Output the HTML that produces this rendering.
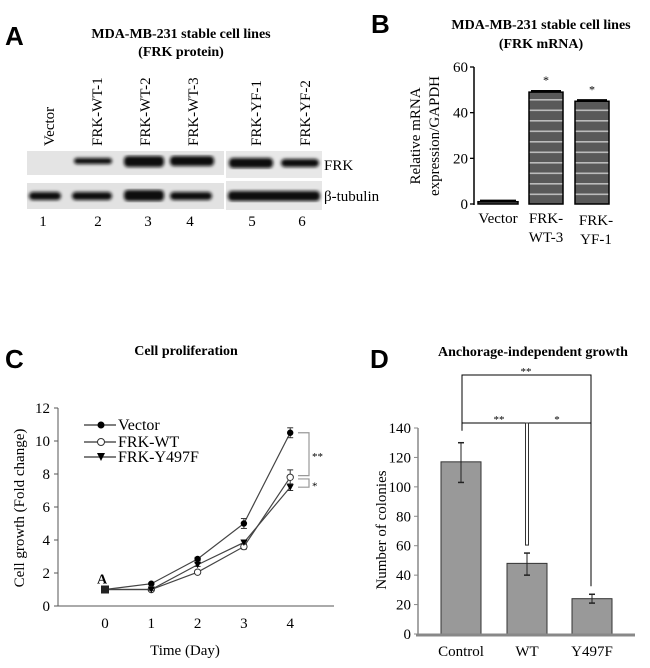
<!DOCTYPE html>
<html><head><meta charset="utf-8">
<style>
html,body{margin:0;padding:0;background:#fff;}
svg{display:block;font-family:"Liberation Serif",serif;}
.pl{font-family:"Liberation Sans",sans-serif;font-weight:bold;font-size:26px;}
.tt{font-weight:bold;font-size:14px;}
</style></head>
<body>
<svg width="650" height="668" viewBox="0 0 650 668">
<defs>
<pattern id="stripe" width="10" height="10.5" patternUnits="userSpaceOnUse">
<rect width="10" height="10.5" fill="#595959"/><rect y="4.5" width="10" height="1.6" fill="#bbb"/>
</pattern>
<filter id="blur"><feGaussianBlur stdDeviation="1.6"/></filter>
</defs>

<g>
<text class="pl" x="5" y="45">A</text>
<text class="tt" x="181" y="38" text-anchor="middle">MDA-MB-231 stable cell lines</text>
<text class="tt" x="181" y="56" text-anchor="middle">(FRK protein)</text>
<g font-size="15">
<text transform="translate(54,146) rotate(-90)">Vector</text>
<text transform="translate(102,146) rotate(-90)">FRK-WT-1</text>
<text transform="translate(150,146) rotate(-90)">FRK-WT-2</text>
<text transform="translate(198,146) rotate(-90)">FRK-WT-3</text>
<text transform="translate(261,146) rotate(-90)">FRK-YF-1</text>
<text transform="translate(310,146) rotate(-90)">FRK-YF-2</text>
</g>
<g>
<rect x="27" y="151" width="197" height="24" fill="#e4e4e4"/>
<rect x="226" y="151" width="96" height="27" fill="#e8e8e8"/>
<g filter="url(#blur)" fill="#111">
<rect x="74" y="158" width="38" height="6" rx="3"/>
<rect x="124" y="156" width="40" height="11" rx="4"/>
<rect x="170" y="156" width="44" height="10" rx="4"/>
<rect x="229" y="158" width="44" height="10" rx="4"/>
<rect x="281" y="159" width="38" height="8" rx="4"/>
</g>
</g>
<g>
<rect x="27" y="183" width="197" height="26" fill="#e2e2e2"/>
<rect x="226" y="181" width="96" height="29" fill="#e6e6e6"/>
<g filter="url(#blur)" fill="#111">
<rect x="29" y="192" width="32" height="8" rx="4"/>
<rect x="72" y="192" width="40" height="8" rx="4"/>
<rect x="124" y="190" width="40" height="11" rx="4"/>
<rect x="170" y="192" width="42" height="8" rx="4"/>
<rect x="228" y="191" width="92" height="10" rx="4"/>
</g>
</g>
<text x="324" y="170" font-size="15">FRK</text>
<text x="324" y="201" font-size="15">β-tubulin</text>
<g font-size="15" text-anchor="middle">
<text x="43" y="226">1</text><text x="98" y="226">2</text><text x="148" y="226">3</text>
<text x="190" y="226">4</text><text x="252" y="226">5</text><text x="302" y="226">6</text>
</g>
</g>

<g id="panelB">
<text class="pl" x="371" y="33">B</text>
<text class="tt" x="541" y="29" text-anchor="middle">MDA-MB-231 stable cell lines</text>
<text class="tt" x="541" y="48" text-anchor="middle">(FRK mRNA)</text>
<text transform="translate(420,136) rotate(-90)" font-size="15" text-anchor="middle">Relative mRNA</text>
<text transform="translate(439,136) rotate(-90)" font-size="15" text-anchor="middle">expression/GAPDH</text>
</g>

<g id="panelC">
<text class="pl" x="5" y="368">C</text>
<text class="tt" x="186" y="355" text-anchor="middle">Cell proliferation</text>
<text transform="translate(24,508) rotate(-90)" font-size="15" text-anchor="middle">Cell growth (Fold change)</text>
<text x="185" y="655" font-size="15" text-anchor="middle">Time (Day)</text>
</g>

<g id="panelD">
<text class="pl" x="370" y="368">D</text>
<text class="tt" x="533" y="356" text-anchor="middle">Anchorage-independent growth</text>
<text transform="translate(386,530) rotate(-90)" font-size="15" text-anchor="middle">Number of colonies</text>
</g>
</svg>

<script>
const bCats = [["Vector"],["FRK-","WT-3"],["FRK-","YF-1"]];
const bVals = [1, 49, 45];
const bErr = [0.6, 0.6, 0.6];
const bTicks = [0, 20, 40, 60];
const cDays = [0, 1, 2, 3, 4];
const cVector = [1, 1.35, 2.85, 5.0, 10.5];
const cWT = [1, 1.0, 2.05, 3.6, 7.8];
const cYF = [1, 1.0, 2.5, 3.85, 7.2];
const cVectorErr = [0.05, 0.05, 0.1, 0.3, 0.3];
const cWTErr = [0.05, 0.05, 0.1, 0.15, 0.45];
const cYFErr = [0.05, 0.05, 0.1, 0.1, 0.2];
const cYTicks = [0, 2, 4, 6, 8, 10, 12];
const cSeriesNames = ["Vector", "FRK-WT", "FRK-Y497F"];
const dCats = ["Control", "WT", "Y497F"];
const dVals = [117, 48, 24];
const dLo = [103, 40, 21];
const dHi = [130, 55, 27];
const dTicks = [0, 20, 40, 60, 80, 100, 120, 140];

const NS = "http://www.w3.org/2000/svg";
function mk(parent, tag, attrs, text) {
  const e = document.createElementNS(NS, tag);
  for (const k in attrs) e.setAttribute(k, attrs[k]);
  if (text !== undefined) e.textContent = text;
  parent.appendChild(e);
  return e;
}

(function(){
  const g = document.getElementById("panelB");
  const y = v => 204 - v * (137 / 60);
  const xc = [498, 546, 592], bw = 34;
  const ax = mk(g, "line", {x1:474, y1:y(60), x2:474, y2:205, stroke:"#000", "stroke-width":1.5});
  
  
  bTicks.forEach(t => {
    mk(g, "line", {x1:470, y1:y(t), x2:474, y2:y(t), stroke:"#000", "stroke-width":1.3});
    const tx = mk(g, "text", {x:468, y:y(t)+5, "font-size":15, "text-anchor":"end"}, t);
    
    
  });
  bVals.forEach((v, i) => {
    const w = i === 0 ? 40 : bw;
    const r = mk(g, "rect", {x:xc[i]-w/2, y:y(v), width:w, height:y(0)-y(v), fill:"url(#stripe)", stroke:"#000", "stroke-width":1.5});
    
    
    mk(g, "line", {x1:xc[i]-w/2+2, y1:y(v+bErr[i]), x2:xc[i]+w/2-2, y2:y(v+bErr[i]), stroke:"#000", "stroke-width":1.5});
    if (i > 0) mk(g, "text", {x:xc[i], y:y(v)-8, "font-size":12, "text-anchor":"middle"}, "*");
    bCats[i].forEach((ln, j) => {
      const t = mk(g, "text", {x:xc[i]+(i===2?4:0), y:223+j*19+(i===2?2:0), "font-size":15, "text-anchor":"middle"}, ln);
      
      
    });
  });
})();

(function(){
  const g = document.getElementById("panelC");
  const x = d => 105 + d * 46.3;
  const y = v => 606 - v * (198 / 12);
  mk(g, "line", {x1:58, y1:y(12), x2:58, y2:y(0), stroke:"#555", "stroke-width":1});
  mk(g, "line", {x1:58, y1:y(0), x2:334, y2:y(0), stroke:"#555", "stroke-width":1});
  cYTicks.forEach(t => {
    mk(g, "line", {x1:54, y1:y(t), x2:58, y2:y(t), stroke:"#555"});
    const tx = mk(g, "text", {x:50, y:y(t)+5, "font-size":15, "text-anchor":"end"}, t);
    
    
  });
  cDays.forEach(d => {
    const tx = mk(g, "text", {x:x(d), y:628, "font-size":15, "text-anchor":"middle"}, d);
    
    
  });
  const series = [[cVector, cVectorErr, "dot"], [cWT, cWTErr, "open"], [cYF, cYFErr, "tri"]];
  series.forEach(([vals, errs, m], si) => {
    const pts = vals.map((v, i) => x(cDays[i]) + "," + y(v)).join(" ");
    const pl = mk(g, "polyline", {points:pts, fill:"none", stroke:"#444", "stroke-width":1.2});
    
    
    vals.forEach((v, i) => {
      const cx = x(cDays[i]), cy = y(v), e = errs[i];
      mk(g, "line", {x1:cx, y1:y(v+e), x2:cx, y2:y(v-e), stroke:"#333"});
      mk(g, "line", {x1:cx-3, y1:y(v+e), x2:cx+3, y2:y(v+e), stroke:"#333"});
      mk(g, "line", {x1:cx-3, y1:y(v-e), x2:cx+3, y2:y(v-e), stroke:"#333"});
      let p;
      if (m === "dot") p = mk(g, "circle", {cx, cy, r:3.2, fill:"#000"});
      else if (m === "open") p = mk(g, "circle", {cx, cy, r:3.2, fill:"#fff", stroke:"#333"});
      else p = mk(g, "path", {d:`M${cx-3.5},${cy-3} L${cx+3.5},${cy-3} L${cx},${cy+3.5} Z`, fill:"#000"});
      
      
    });
  });
  mk(g, "rect", {x:x(0)-4, y:y(1)-4, width:8, height:8, fill:"#222"});
  mk(g, "text", {x:x(0)-3, y:y(1)-6, "font-size":14, "font-weight":"bold", "text-anchor":"middle"}, "A");
  const ly = [425, 442, 457];
  cSeriesNames.forEach((n, i) => {
    mk(g, "line", {x1:84, y1:ly[i], x2:116, y2:ly[i], stroke:"#333", "stroke-width":1.3});
    const cx = 101, cy = ly[i];
    if (i === 0) mk(g, "circle", {cx, cy, r:3.5, fill:"#000"});
    else if (i === 1) mk(g, "circle", {cx, cy, r:3.5, fill:"#fff", stroke:"#333"});
    else mk(g, "path", {d:`M${cx-4},${cy-4} L${cx+4},${cy-4} L${cx},${cy+4} Z`, fill:"#000"});
    const t = mk(g, "text", {x:118, y:cy+5, "font-size":16}, n);
    
    
  });
  mk(g, "path", {d:`M298,${y(10.5)} H309 V${y(7.9)} H298`, fill:"none", stroke:"#999", "stroke-width":1.2});
  mk(g, "path", {d:`M298,${y(7.7)} H309 V${y(7.2)} H298`, fill:"none", stroke:"#999", "stroke-width":1.2});
  mk(g, "text", {x:312, y:y(9.1)+4, "font-size":11}, "**");
  mk(g, "text", {x:312, y:y(7.3)+4, "font-size":11}, "*");
})();

(function(){
  const g = document.getElementById("panelD");
  const y = v => 634 - v * (206 / 140);
  const xc = [461, 527, 592], bw = 40;
  mk(g, "line", {x1:418, y1:y(140), x2:418, y2:y(0), stroke:"#888", "stroke-width":1.5});
  dTicks.forEach(t => {
    mk(g, "line", {x1:414, y1:y(t), x2:418, y2:y(t), stroke:"#888"});
    const tx = mk(g, "text", {x:411, y:y(t)+5, "font-size":15, "text-anchor":"end"}, t);
    
    
  });
  dVals.forEach((v, i) => {
    const r = mk(g, "rect", {x:xc[i]-bw/2, y:y(v), width:bw, height:y(0)-y(v), fill:"#999", stroke:"#333", "stroke-width":1});
    
    
    mk(g, "line", {x1:xc[i], y1:y(dHi[i]), x2:xc[i], y2:y(dLo[i]), stroke:"#222"});
    mk(g, "line", {x1:xc[i]-3, y1:y(dHi[i]), x2:xc[i]+3, y2:y(dHi[i]), stroke:"#222", "stroke-width":1.5});
    mk(g, "line", {x1:xc[i]-3, y1:y(dLo[i]), x2:xc[i]+3, y2:y(dLo[i]), stroke:"#222", "stroke-width":1.5});
    const t = mk(g, "text", {x:xc[i], y:656, "font-size":15, "text-anchor":"middle"}, dCats[i]);
    
    
  });
  mk(g, "line", {x1:416, y1:y(0)+1, x2:635, y2:y(0)+1, stroke:"#888", "stroke-width":3});
  mk(g, "path", {d:`M462,${y(dHi[0])-12} V375 H591 V${y(dHi[2])-8}`, fill:"none", stroke:"#000", "stroke-width":1});
  mk(g, "line", {x1:462, y1:423, x2:591, y2:423, stroke:"#000"});
  mk(g, "rect", {x:525.5, y:423, width:3, height:y(dHi[1])-423-8, fill:"#fff", stroke:"#333", "stroke-width":1});
  mk(g, "text", {x:526, y:375, "font-size":11, "text-anchor":"middle"}, "**");
  mk(g, "text", {x:499, y:423, "font-size":11, "text-anchor":"middle"}, "**");
  mk(g, "text", {x:557, y:423, "font-size":11, "text-anchor":"middle"}, "*");
})();
</script>
</body></html>
